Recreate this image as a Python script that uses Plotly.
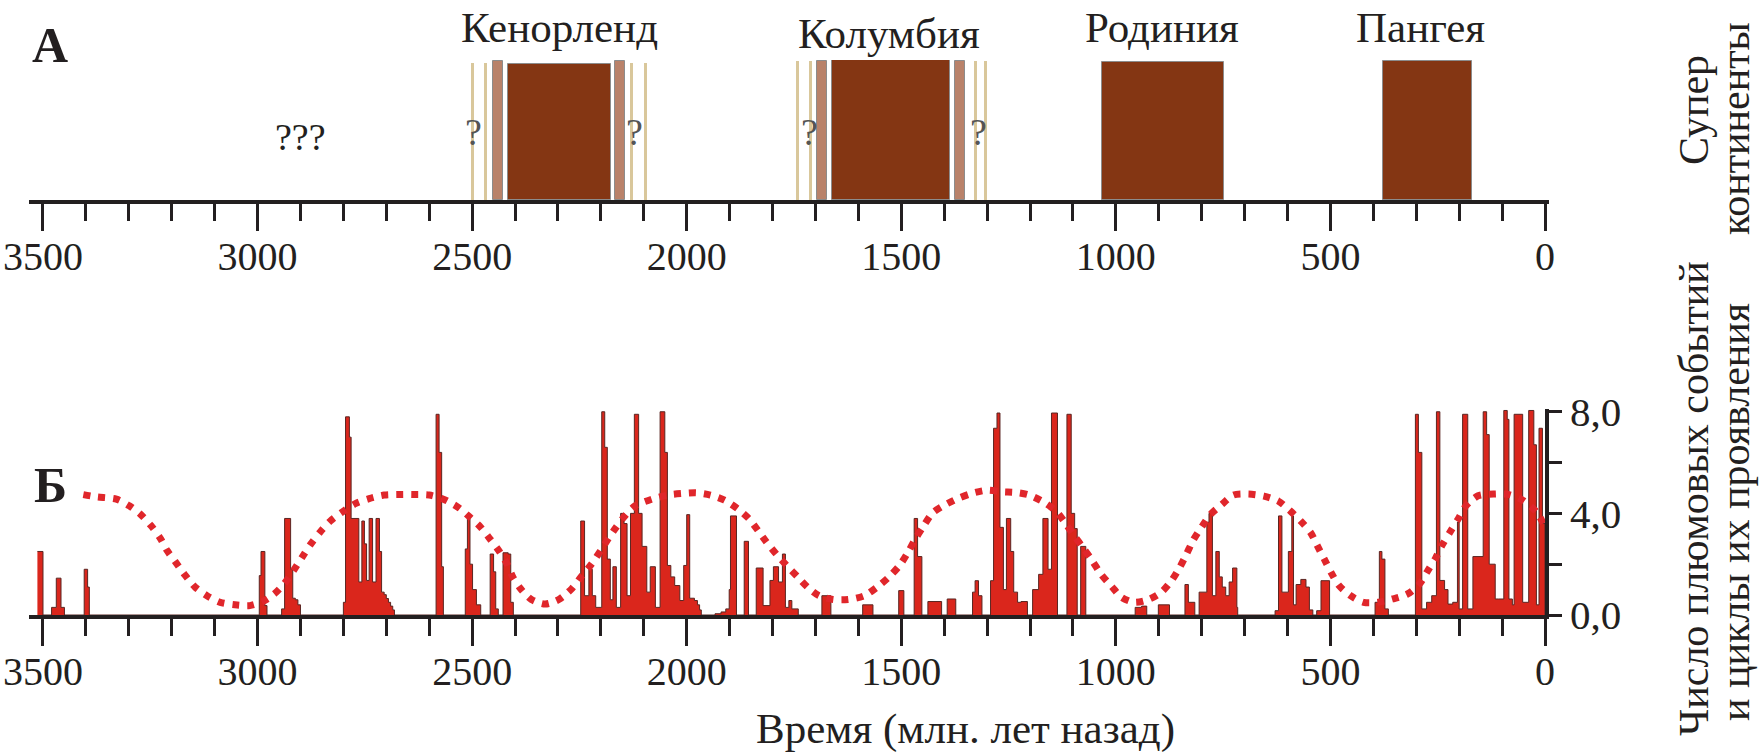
import plotly.graph_objects as go

W, H = 1760, 753

# ---------------- DATA ----------------
supercontinent_names = ["Кенорленд", "Колумбия", "Родиния", "Пангея"]
supercontinent_start_ma = [2416, 1662, 1032, 378]
supercontinent_end_ma = [2177, 1387, 749, 169]
supercontinent_height = [0.975, 1.0, 0.985, 0.99]
supercontinent_label_ma = [2296, 1529, 893, 291]

transition_start_ma = [2452, 2167, 1696, 1374]
transition_end_ma = [2429, 2143, 1673, 1351]
transition_height = [0.995, 0.995, 0.99, 0.99]

uncertain_stripe_ma = [2499, 2470, 2128, 2096, 1741, 1712, 1327, 1304]
uncertain_stripe_height = [0.98, 0.98, 0.98, 0.98, 0.99, 0.99, 0.99, 0.99]
question_mark_ma = [2496, 2121, 1715, 1321]

time_ticks_ma = [3500, 3000, 2500, 2000, 1500, 1000, 500, 0]
count_ticks = [0, 2, 4, 6, 8]
count_tick_text = ["0,0", "", "4,0", "", "8,0"]

plume_age_ma = [
    3513, 3500, 3480, 3469, 3458, 3450, 3404, 3396, 3392,
    2996, 2992, 2983, 2978,
    2944, 2937, 2923, 2918, 2912, 2906, 2900,
    2800, 2795, 2786, 2782, 2764, 2757, 2751, 2746, 2740, 2732, 2724, 2716, 2711, 2705, 2700, 2695, 2690, 2685, 2681,
    2584, 2577, 2571, 2567,
    2516, 2511, 2505, 2499, 2490, 2480,
    2458, 2450, 2445, 2439,
    2428, 2416, 2410, 2404,
    2247, 2238, 2228, 2220, 2212, 2198, 2191, 2185, 2178, 2172, 2164, 2154, 2146, 2139, 2131, 2122, 2112, 2104, 2093,
    2085, 2073, 2062, 2051, 2045, 2037, 2028, 2016, 2007, 2000, 1993, 1982, 1975, 1970, 1966,
    1934, 1920, 1909, 1901, 1898, 1884,
    1866, 1856,
    1838, 1822, 1806, 1798, 1786, 1777, 1770, 1762, 1755, 1740,
    1685, 1664,
    1590, 1566,
    1506, 1494,
    1470, 1462, 1452,
    1438, 1406,
    1393, 1373,
    1334, 1328, 1320, 1312,
    1292, 1285, 1277, 1270, 1262, 1255, 1245, 1238, 1229, 1221, 1206,
    1194, 1180, 1170, 1158, 1150, 1136,
    1114, 1104, 1096, 1090,
    1082, 1070,
    955, 940, 928,
    901, 875,
    839, 831, 816,
    806, 788, 783, 775, 767, 759, 752, 744, 736, 728, 718, 716,
    629, 621, 613, 598, 590, 586, 580, 569, 557, 549, 541,
    532, 522, 502,
    396, 386, 380, 373, 365,
    302, 295, 287, 276, 264, 253, 245, 234, 226, 215, 204, 200, 192, 180, 168, 144, 136, 130, 116, 108,
    96, 88, 84, 76, 72, 52, 38, 26, 20, 14, 6, 0,
]
plume_count = [
    2.5, 0, 0.3, 1.45, 0.3, 0, 1.8, 1.1, 0,
    1.55, 2.5, 0.37, 0,
    0.24, 3.8, 1.8, 0.66, 0.6, 0.4, 0,
    0.5, 7.8, 7.0, 3.8, 1.3, 3.7, 2.8, 1.36, 3.8, 1.3, 3.8, 2.5, 0.9, 0.8, 0.65, 0.5, 0.35, 0.2, 0,
    7.9, 6.4, 1.9, 0,
    2.6, 3.8, 2.0, 1.0, 0.4, 0,
    2.4, 1.7, 0.24, 0,
    2.45, 2.4, 0.5, 0,
    3.7, 0.76, 1.8, 0.76, 0.3, 8.0, 6.6, 2.2, 0.6, 1.9, 0.3, 4.0, 3.6, 0.76, 4.0, 7.9, 4.0, 2.7, 0.9,
    1.9, 0.3, 8.0, 6.4, 1.95, 1.5, 1.16, 0.57, 1.95, 3.95, 0.66, 0.57, 0.4, 0.2, 0,
    0.05, 0.12, 0.24, 1.0, 3.9, 0,
    2.9, 0,
    1.85, 0.37, 1.36, 1.9, 1.3, 2.4, 0.3, 0.57, 0.24, 0,
    0.76, 0,
    0.4, 0,
    0.96, 0,
    3.8, 2.3, 0,
    0.53, 0,
    0.63, 0,
    0.9, 1.35, 0.76, 0,
    1.35, 7.35, 7.95, 3.45, 1.0, 3.8, 2.5, 0.9, 0.5, 0.53, 0,
    1.0, 1.6, 3.8, 1.8, 7.95, 0,
    7.9, 4.0, 3.4, 0,
    2.7, 0,
    0.3, 0.35, 0,
    0.4, 0,
    1.2, 0.5, 0,
    0.9, 3.65, 4.0, 0.76, 2.5, 1.5, 1.1, 0.76, 1.3, 1.85, 0.3, 0,
    0.17, 3.9, 0.9, 2.5, 3.9, 0.4, 1.2, 1.4, 1.1, 0.2, 0,
    0.17, 1.35, 0,
    0.5, 2.5, 2.2, 0.24, 0,
    7.9, 6.4, 0.24, 0.5, 0.76, 8.0, 1.36, 1.0, 0.43, 0.5, 3.66, 0.24, 7.9, 0.24, 2.3, 8.0, 7.1, 2.0, 0.63, 0.63,
    8.05, 7.7, 0.63, 0.4, 7.9, 0.5, 8.05, 6.7, 0.4, 7.35, 3.6, 0,
]

cycle_age_ma = [
    3406, 3375, 3329, 3299, 3272, 3249, 3227, 3211, 3191, 3168, 3145, 3118, 3087, 3053, 3018,
    2988, 2961, 2938, 2915, 2896, 2877, 2854, 2831, 2802, 2771, 2740, 2705, 2670, 2635, 2600,
    2567, 2531, 2506, 2481, 2460, 2438, 2419, 2405, 2387, 2362, 2330, 2298, 2267, 2244, 2221,
    2198, 2171, 2144, 2120, 2081, 2045, 2012, 1978, 1945, 1912, 1882, 1855, 1834, 1814, 1790,
    1767, 1741, 1718, 1692, 1659, 1624, 1586, 1557, 1529, 1504, 1484, 1467, 1447, 1428, 1406,
    1369, 1337, 1300, 1266, 1232, 1202, 1167, 1139, 1117, 1098, 1076, 1054, 1034, 1010, 987,
    957, 924, 894, 870, 851, 835, 820, 800, 780, 753, 726, 691, 655, 621, 595,
    569, 546, 530, 514, 498, 480, 453, 423, 389, 355, 320, 292, 273, 255, 240,
    221, 202, 184, 156, 120, 84, 52, 20, 4,
]
cycle_value = [
    4.74, 4.65, 4.56, 4.3, 3.95, 3.53, 3.03, 2.54, 2.08, 1.55, 1.09, 0.76, 0.5, 0.4, 0.37,
    0.53, 0.83, 1.23, 1.78, 2.28, 2.77, 3.27, 3.69, 4.06, 4.39, 4.58, 4.72, 4.74, 4.74, 4.72,
    4.56, 4.22, 3.86, 3.47, 3.03, 2.54, 2.02, 1.49, 1.03, 0.61, 0.43, 0.61, 1.05, 1.55, 2.02,
    2.6, 3.3, 3.9, 4.3, 4.56, 4.72, 4.78, 4.81, 4.72, 4.52, 4.19, 3.79, 3.33, 2.87, 2.37,
    1.95, 1.49, 1.09, 0.76, 0.61, 0.61, 0.76, 1.09, 1.49, 1.95, 2.48, 3.0, 3.53, 4.0, 4.26,
    4.58, 4.78, 4.91, 4.85, 4.82, 4.72, 4.43, 4.08, 3.6, 3.14, 2.64, 2.11, 1.59, 1.13, 0.7,
    0.5, 0.61, 0.9, 1.36, 1.88, 2.41, 2.94, 3.47, 3.95, 4.35, 4.72, 4.76, 4.68, 4.48, 4.12,
    3.69, 3.24, 2.71, 2.19, 1.66, 1.16, 0.76, 0.5, 0.5, 0.63, 0.83, 1.23, 1.75, 2.24, 2.74,
    3.27, 3.79, 4.3, 4.69, 4.76, 4.74, 4.52, 4.06, 3.6,
]

# ---------------- STYLE ----------------
FONT = "Liberation Serif, Times New Roman, serif"
INK = "#231F20"
BROWN = "#843613"
TAN = "#B9826A"
PALE = "#D9C79B"
RED = "#DA261C"
DOT_RED = "#E0262B"

def px_x(p):
    return p / W

def px_y(p):
    return 1 - p / H

fig = go.Figure()

# Panel A: supercontinents
fig.add_trace(go.Bar(
    x=uncertain_stripe_ma,
    y=uncertain_stripe_height, width=[7] * len(uncertain_stripe_ma),
    marker=dict(color=PALE, line=dict(width=0)),
    xaxis="x", yaxis="y", showlegend=False, hoverinfo="skip",
))
fig.add_trace(go.Bar(
    x=[(s + e) / 2 for s, e in zip(transition_start_ma, transition_end_ma)],
    y=transition_height,
    width=[s - e for s, e in zip(transition_start_ma, transition_end_ma)],
    marker=dict(color=TAN, line=dict(color="#8c8c8c", width=1)),
    xaxis="x", yaxis="y", showlegend=False, hoverinfo="skip",
))
fig.add_trace(go.Bar(
    x=[(s + e) / 2 for s, e in zip(supercontinent_start_ma, supercontinent_end_ma)],
    y=supercontinent_height,
    width=[s - e for s, e in zip(supercontinent_start_ma, supercontinent_end_ma)],
    marker=dict(color=BROWN, line=dict(color="#8c8c8c", width=1)),
    xaxis="x", yaxis="y", showlegend=False, hoverinfo="skip",
))

# Panel B: plume events (stepped histogram)
fig.add_trace(go.Scatter(
    x=plume_age_ma, y=plume_count, mode="lines",
    line=dict(shape="hv", color="#5a2622", width=1),
    fill="tozeroy", fillcolor=RED,
    xaxis="x2", yaxis="y2", showlegend=False, hoverinfo="skip",
))
# cycles (dotted)
fig.add_trace(go.Scatter(
    x=cycle_age_ma, y=cycle_value, mode="lines",
    line=dict(color=DOT_RED, width=7, dash="7px,8px", shape="spline", smoothing=0.8),
    xaxis="x2", yaxis="y2", showlegend=False, hoverinfo="skip",
))

axis_common = dict(
    automargin=False,
    showgrid=False, zeroline=False, showline=True, linecolor=INK, linewidth=3.5,
    ticks="outside", tickcolor=INK, tickwidth=3, ticklen=27,
    tickmode="array", tickvals=time_ticks_ma, ticktext=[str(v) for v in time_ticks_ma],
    tickfont=dict(family=FONT, size=40, color=INK),
    minor=dict(ticks="outside", dtick=100, tick0=0, ticklen=17, tickwidth=3, tickcolor=INK, showgrid=False),
    ticklabelstandoff=-9,
)

fig.update_layout(
    width=W, height=H,
    margin=dict(l=0, r=0, t=0, b=0, autoexpand=False),
    paper_bgcolor="white", plot_bgcolor="white",
    barmode="overlay", bargap=0,
    hovermode=False,
    xaxis=dict(domain=[px_x(29), px_x(1549)], range=[3532.6, -9.3], anchor="y", **axis_common),
    yaxis=dict(domain=[px_y(200), px_y(60)], range=[0, 1], visible=False, fixedrange=True, automargin=False),
    xaxis2=dict(domain=[px_x(29), px_x(1545)], range=[3532.6, 0], anchor="y2", **axis_common),
    yaxis2=dict(
        automargin=False,
        domain=[px_y(615), px_y(408.7)], range=[0, 8.12], anchor="x2", side="right",
        showgrid=False, zeroline=False, showline=True, linecolor=INK, linewidth=3.5,
        ticks="outside", tickcolor=INK, tickwidth=3, ticklen=13,
        tickmode="array", tickvals=count_ticks, ticktext=count_tick_text,
        tickfont=dict(family=FONT, size=41, color=INK), ticklabelstandoff=0,
    ),
)

def label(text, x, y, size, xref="paper", yref="paper", color=INK, angle=0):
    return dict(text=text, x=x, y=y, xref=xref, yref=yref, showarrow=False,
                xanchor="center", yanchor="middle", textangle=angle,
                font=dict(family=FONT, size=size, color=color))

ann = []
# panel letters
ann.append(label("<b>А</b>", px_x(50), px_y(45), 50))
ann.append(label("<b>Б</b>", px_x(50), px_y(485), 50))
# supercontinent names
name_y_px = [28, 34, 28, 28]
for name, age, ypx in zip(supercontinent_names, supercontinent_label_ma, name_y_px):
    ann.append(label(name, age, px_y(ypx), 43, xref="x"))
# question marks
for age in question_mark_ma:
    ann.append(label("?", age, 0.483, 38, xref="x", yref="y", color="#555555"))
ann.append(label("???", 2899, 0.45, 38, xref="x", yref="y"))
# axis title
ann.append(label("Время (млн. лет назад)", px_x(965), px_y(729), 43))
# right-hand titles
right_titles = [
    ("Супер", 1694, 110),
    ("континенты", 1735, 129),
    ("Число плюмовых событий", 1694, 499),
    ("и циклы их проявления", 1735, 512),
]
for txt, xp, yp in right_titles:
    ann.append(label(txt, px_x(xp), px_y(yp), 42, angle=-90))

fig.update_layout(annotations=ann)

fig.write_html(
    "out.html",
    config={"displayModeBar": False},
    post_script="document.body.style.margin='0';document.body.style.overflow='hidden';",
)
